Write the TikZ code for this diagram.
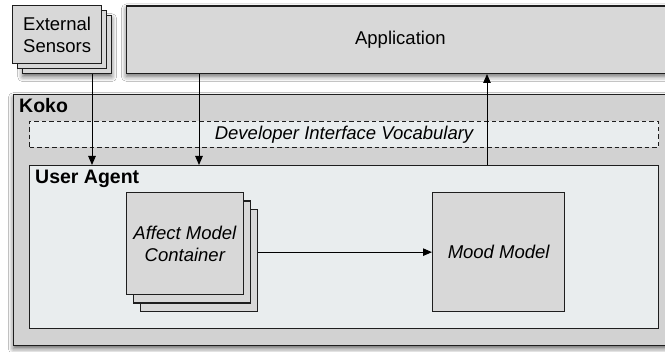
\documentclass[tikz,border=0pt]{standalone}
\usepackage{fontspec}
\setmainfont{Liberation Sans}
\usetikzlibrary{arrows.meta,shadows,shadows.blur}

\definecolor{boxgray}{HTML}{D8D8D8}
\definecolor{frame}{HTML}{D2D2D2}
\definecolor{pane}{HTML}{E9EDEE}
\definecolor{edge}{HTML}{1E1E1E}

\newcommand\lblfont{\fontsize{18.5}{22}\selectfont}
\newcommand\headfont{\fontsize{19.5}{22}\selectfont\bfseries}

\tikzset{
  box/.style={draw=edge, line width=1.3pt, inner sep=0pt, anchor=north west,
              font=\lblfont, align=center},
  softshadow/.style={blur shadow={shadow xshift=0pt, shadow yshift=-3pt,
              shadow blur radius=5pt, shadow opacity=60}},
  heading/.style={anchor=base west, inner sep=0pt, font=\headfont},
  arr/.style={draw=black, line width=1pt, -{Triangle[length=9pt,width=7.5pt]}},
}

\begin{document}
\begin{tikzpicture}[x=1pt,y=-1pt]
  \clip (0,0) rectangle (665,352);
  \fill[white] (0,0) rectangle (665,352);

  % top row: sensors stack and the application
  \node[box, fill=boxgray, minimum width=89pt, minimum height=58pt, softshadow] (sens3) at (22,15) {};
  \node[box, fill=boxgray, minimum width=89pt, minimum height=58pt] (sens2) at (17,10) {};
  \node[box, fill=boxgray, minimum width=89pt, minimum height=58pt] (sens) at (12,5) {External\\Sensors};

  \node[box, fill=boxgray, minimum width=548pt, minimum height=67.4pt, softshadow] (app) at (125.7,5.3) {Application};

  % Koko framework
  \node[box, fill=frame, minimum width=660pt, minimum height=251pt, softshadow] (koko) at (12.7,94) {};
  \node[heading] (kokolbl) at (19,112.5) {Koko};

  \node[box, fill=pane, line width=1.1pt, dash pattern=on 4.5pt off 3pt,
        minimum width=629pt, minimum height=26pt, font=\lblfont\itshape] (vocab) at (29,120.7)
        {Developer Interface Vocabulary};

  % user agent
  \node[box, fill=pane, minimum width=629pt, minimum height=162.7pt] (agent) at (29,165) {};
  \node[heading] (agentlbl) at (35,183.3) {User Agent};

  \node[box, fill=boxgray, minimum width=117pt, minimum height=102pt] (affect3) at (140.1,209) {};
  \node[box, fill=boxgray, minimum width=117pt, minimum height=102pt] (affect2) at (132.9,200.5) {};
  \node[box, fill=boxgray, minimum width=117pt, minimum height=102pt, font=\lblfont\itshape] (affect) at (125.7,192)
        {Affect Model\\Container};

  \node[box, fill=boxgray, minimum width=132pt, minimum height=119pt, font=\lblfont\itshape] (mood) at (432,192)
        {Mood Model};

  % connectors
  \draw[arr] ([xshift=70pt]sens3.south west) -- ([xshift=70pt]sens3.south west |- agent.north);
  \draw[arr] ([xshift=73.3pt]app.south west) -- ([xshift=73.3pt]app.south west |- agent.north);
  \draw[arr] ([xshift=458pt]agent.north west) -- ([xshift=458pt]agent.north west |- app.south);
  \draw[arr] (affect3.east |- mood.west) -- (mood.west);
\end{tikzpicture}
\end{document}
